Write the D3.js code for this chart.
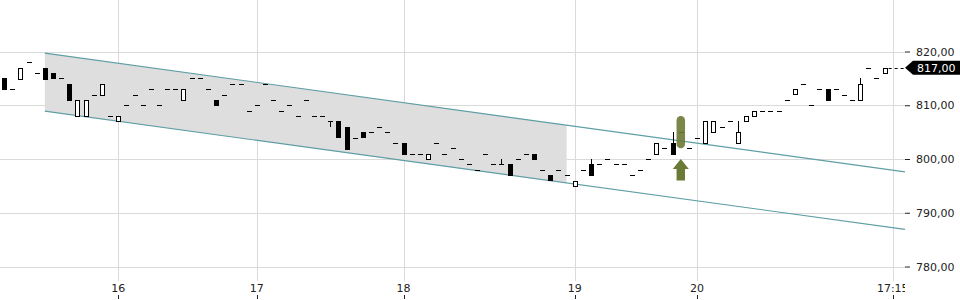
<!DOCTYPE html>
<html>
<head>
<meta charset="utf-8">
<script src="https://cdn.jsdelivr.net/npm/d3@7"></script>
<style>
  body { margin: 0; background: #fff; }
  svg { display: block; font-family: "DejaVu Sans", sans-serif; }
</style>
</head>
<body>
<div class="chart"></div>
<script>
// candle values, one per slot (index 0..108)
var opens = [815,813,815,818,816,817,816,815,814,808,808,812,812,808,807,810,812,810,813,810,
  813,813,811,815,815,813,811,812,814,814,809,810,814,811,809,810,808,811,808,808,
  807,807,806,804,805,805,806,805,803,803,801,801,800,803,801,802,800,799,798,801,
  799,799,799,800,801,801,798,797,798,797,795,798,799,799,800,799,799,797,798,800,
  801,802,803,805,802,804,803,805,806,807,803,807,808,809,809,809,811,812,814,810,
  813,813,813,812,811,811,817,815,816];
var closes = [813,813,817,818,816,815,815,815,811,811,811,812,814,808,808,810,812,810,813,810,
  813,813,813,815,815,813,810,812,814,814,809,810,814,811,809,810,808,811,808,808,
  807,804,802,804,804,805,806,805,803,801,801,801,801,803,801,802,800,799,798,801,
  799,799,797,800,801,800,798,796,798,797,796,798,797,799,800,799,799,797,798,800,
  803,802,801,805,802,804,807,807,806,807,805,808,809,809,809,809,811,813,814,810,
  813,811,813,812,811,814,817,815,817];
// wicks that stick out of the body
var highWicks = {61: 800, 72: 800, 82: 805, 90: 807, 105: 815};
var lowWicks = {40: 806};

// trend channel (slot index, upper, lower)
var channelStart = [5, 819.7, 808.9];
var channelEnd = [110.5, 797.6, 786.9];
var shadeEnd = 69;

// signal marker
var signalIndex = 83;
var signalPill = [802, 808];
var signalArrow = [796, 800];

var lastPrice = 817;

var yTicks = [780, 790, 800, 810, 820];
var xTickIndex = [14, 31, 49, 70, 85, 109];
var xTickLabels = ["16", "17", "18", "19", "20", "17:15"];

var svgWidth = 960;
var svgHeight = 300;
var plotRight = 905;
var gridBottom = 281;

var svg = d3.select(".chart")
  .append("svg")
  .attr("width", svgWidth)
  .attr("height", svgHeight);

var x = d3.scaleLinear().domain([-0.5, 110.5]).range([0, plotRight]);
var y = d3.scaleLinear().domain([780, 820]).range([266.5, 51.5]);

var candles = opens.map(function(o, i) {
  var c = closes[i];
  return {
    i: i, o: o, c: c,
    h: highWicks[i] !== undefined ? highWicks[i] : Math.max(o, c),
    l: lowWicks[i] !== undefined ? lowWicks[i] : Math.min(o, c)
  };
});

var px = function(v) { return Math.round(v) + 0.5; };

// grid
svg.append("g").selectAll("line")
  .data(yTicks)
  .enter().append("line")
  .attr("x1", 0).attr("x2", plotRight)
  .attr("y1", d => px(y(d))).attr("y2", d => px(y(d)))
  .attr("stroke", "#dadada");

svg.append("g").selectAll("line")
  .data(xTickIndex)
  .enter().append("line")
  .attr("x1", d => px(x(d))).attr("x2", d => px(x(d)))
  .attr("y1", 0).attr("y2", gridBottom)
  .attr("stroke", "#dadada");

// channel
var slope = (channelEnd[1] - channelStart[1]) / (channelEnd[0] - channelStart[0]);
var upperAt = i => channelStart[1] + slope * (i - channelStart[0]);
var lowerAt = i => channelStart[2] + slope * (i - channelStart[0]);

var shade = [
  [channelStart[0], upperAt(channelStart[0])],
  [shadeEnd, upperAt(shadeEnd)],
  [shadeEnd, lowerAt(shadeEnd)],
  [channelStart[0], lowerAt(channelStart[0])]
];
svg.append("path")
  .attr("d", "M" + shade.map(p => x(p[0]) + "," + y(p[1])).join("L") + "Z")
  .attr("fill", "#dedede");

var line = d3.line().x(d => x(d[0])).y(d => y(d[1]));
svg.append("path")
  .attr("d", line([[channelStart[0], channelStart[1]], [channelEnd[0], channelEnd[1]]]))
  .attr("fill", "none").attr("stroke", "#5e9ea5").attr("stroke-width", 1.1);
svg.append("path")
  .attr("d", line([[channelStart[0], channelStart[2]], [channelEnd[0], channelEnd[2]]]))
  .attr("fill", "none").attr("stroke", "#5e9ea5").attr("stroke-width", 1.1);

// candles
var candleGroup = svg.append("g").attr("shape-rendering", "crispEdges");

candleGroup.selectAll(".wick")
  .data(candles.filter(d => d.h > Math.max(d.o, d.c) || d.l < Math.min(d.o, d.c)))
  .enter().append("line")
  .attr("x1", d => px(x(d.i))).attr("x2", d => px(x(d.i)))
  .attr("y1", d => y(d.h)).attr("y2", d => y(d.l))
  .attr("stroke", "#000");

candleGroup.selectAll(".flat")
  .data(candles.filter(d => d.o === d.c))
  .enter().append("line")
  .attr("x1", d => Math.round(x(d.i)) - 2.5).attr("x2", d => Math.round(x(d.i)) + 3)
  .attr("y1", d => px(y(d.o))).attr("y2", d => px(y(d.o)))
  .attr("stroke", "#000").attr("stroke-width", 1.4);

candleGroup.selectAll(".body")
  .data(candles.filter(d => d.o !== d.c))
  .enter().append("rect")
  .attr("x", d => Math.round(x(d.i)) - 2 + 0.5)
  .attr("y", d => Math.round(y(Math.max(d.o, d.c))) + 0.5)
  .attr("width", 4)
  .attr("height", d => Math.round(Math.abs(y(d.o) - y(d.c))))
  .attr("fill", d => d.c > d.o ? "#fff" : "#000")
  .attr("stroke", "#000");

// signal marker
var markerColor = "#6b7a35";
var cx = x(signalIndex);
svg.append("rect")
  .attr("x", cx - 4.25)
  .attr("y", y(signalPill[1]))
  .attr("width", 8.5)
  .attr("height", y(signalPill[0]) - y(signalPill[1]))
  .attr("rx", 4.25)
  .attr("fill", markerColor)
  .attr("opacity", 0.9);

var tipY = y(signalArrow[1]);
var baseY = y(signalArrow[0]);
var headY = tipY + 10;
svg.append("path")
  .attr("d", "M" + cx + "," + tipY +
    "L" + (cx + 8) + "," + headY +
    "L" + (cx + 4.2) + "," + headY +
    "L" + (cx + 4.2) + "," + baseY +
    "L" + (cx - 4.2) + "," + baseY +
    "L" + (cx - 4.2) + "," + headY +
    "L" + (cx - 8) + "," + headY + "Z")
  .attr("fill", markerColor);

// current price line
svg.append("line")
  .attr("x1", x(opens.length - 1) + 4).attr("x2", plotRight)
  .attr("y1", px(y(lastPrice))).attr("y2", px(y(lastPrice)))
  .attr("stroke", "#000")
  .attr("stroke-dasharray", "3,3");

// y axis
var fmt = d => d3.format(".2f")(d).replace(".", ",");
var yAxis = svg.append("g")
  .attr("transform", `translate(${plotRight}, 0)`)
  .call(d3.axisRight(y).tickValues(yTicks).tickSize(5).tickPadding(6).tickFormat(fmt));
yAxis.select(".domain").remove();
yAxis.selectAll("line").attr("stroke", "#222");
yAxis.selectAll("text")
  .attr("fill", "#222")
  .style("font-size", "11px")
  .style("font-family", "DejaVu Sans");

// price tag
var tagY = y(lastPrice);
svg.append("path")
  .attr("d", `M${plotRight},${tagY}L${plotRight + 8},${tagY - 7}L960,${tagY - 7}L960,${tagY + 7}L${plotRight + 8},${tagY + 7}Z`)
  .attr("fill", "#000");
svg.append("text")
  .attr("x", plotRight + 12)
  .attr("y", tagY + 4)
  .attr("fill", "#fff")
  .style("font-size", "11px")
  .text(fmt(lastPrice));

// x axis labels (clipped at plot edge)
svg.append("clipPath").attr("id", "xclip")
  .append("rect").attr("x", 0).attr("y", 0).attr("width", plotRight).attr("height", svgHeight);

var xLabels = svg.append("g").attr("clip-path", "url(#xclip)");
xLabels.selectAll("text")
  .data(xTickIndex)
  .enter().append("text")
  .attr("x", d => x(d))
  .attr("y", 292)
  .attr("text-anchor", "middle")
  .attr("fill", "#222")
  .style("font-size", "11px")
  .text((d, i) => xTickLabels[i]);

xLabels.selectAll("line")
  .data(xTickIndex)
  .enter().append("line")
  .attr("x1", d => px(x(d))).attr("x2", d => px(x(d)))
  .attr("y1", 295).attr("y2", 299)
  .attr("stroke", "#222");
</script>
</body>
</html>
